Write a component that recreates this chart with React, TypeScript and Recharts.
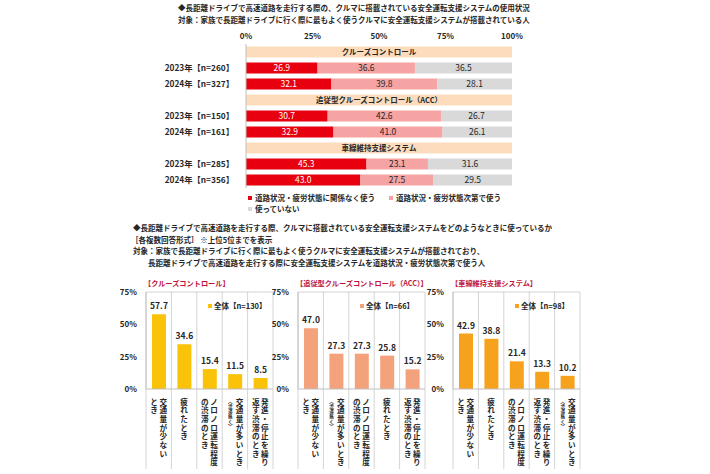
import React from 'react'
import {
    BarChart,
    Bar,
    XAxis,
    YAxis,
    LabelList,
    ReferenceLine
} from 'recharts'

const FONT = '"Noto Sans CJK JP", "Noto Sans", sans-serif'

// ---- top chart data ----
const groups = ['クルーズコントロール', '追従型クルーズコントロール（ACC）', '車線維持支援システム']
const rowLabels = ['2023年【n=260】', '2024年【n=327】', '2023年【n=150】', '2024年【n=161】', '2023年【n=285】', '2024年【n=356】']
const alwaysUse = [26.9, 32.1, 30.7, 32.9, 45.3, 43.0]
const dependUse = [36.6, 39.8, 42.6, 41.0, 23.1, 27.5]
const notUse = [36.5, 28.1, 26.7, 26.1, 31.6, 29.5]
const pctTicks = [0, 25, 50, 75, 100]
const seriesNames = ['道路状況・疲労状態に関係なく使う', '道路状況・疲労状態次第で使う', '使っていない']

// ---- bottom charts data ----
const ccCats = ['交通量が少ないとき', '疲れたとき', 'ノロノロ運転程度の渋滞のとき', '交通量が多いとき（渋滞無く）', '発進・停止を繰り返す渋滞のとき']
const ccValues = [57.7, 34.6, 15.4, 11.5, 8.5]
const accCats = ['交通量が少ないとき', '交通量が多いとき（渋滞無く）', 'ノロノロ運転程度の渋滞のとき', '疲れたとき', '発進・停止を繰り返す渋滞のとき']
const accValues = [47.0, 27.3, 27.3, 25.8, 15.2]
const lkaCats = ['交通量が少ないとき', '疲れたとき', 'ノロノロ運転程度の渋滞のとき', '発進・停止を繰り返す渋滞のとき', '交通量が多いとき（渋滞無く）']
const lkaValues = [42.9, 38.8, 21.4, 13.3, 10.2]
const smallTicks = [0, 25, 50, 75]

// vertical label columns (right to left), "~" prefix = small annotation
const catColumns: Record<string, string[]> = {
    '交通量が少ないとき': ['交通量が少ない', 'とき'],
    '疲れたとき': ['疲れたとき'],
    'ノロノロ運転程度の渋滞のとき': ['ノロノロ運転程度', 'の渋滞のとき'],
    '交通量が多いとき（渋滞無く）': ['交通量が多いとき', '~︵渋滞無く︶'],
    '発進・停止を繰り返す渋滞のとき': ['発進・停止を繰り', '返す渋滞のとき']
}

const RED = '#e8000f'
const PINK = '#f6a3a3'
const GRAY = '#d9d9d9'
const PEACH = '#fcdcbd'
const TEXT = '#262626'

const tableData: any[] = []
groups.forEach((g, gi) => {
    tableData.push({ key: 'h' + gi, header: 100, title: g })
    for (let k = 0; k < 2; k++) {
        const i = gi * 2 + k
        tableData.push({ key: 'r' + i, label: rowLabels[i], a: alwaysUse[i], b: dependUse[i], c: notUse[i] })
    }
})
const labelByKey: Record<string, string> = {}
tableData.forEach(d => { labelByKey[d.key] = d.label || '' })

const fmt1 = (v: any) => (typeof v === 'number' ? v.toFixed(1) : '')

function UsageChart() {
    return (
        <BarChart
            width={376}
            height={162}
            data={tableData}
            layout="vertical"
            margin={{ top: 0, right: 14, bottom: 0, left: 0 }}
            barCategoryGap="16%"
        >
            <XAxis
                type="number"
                orientation="top"
                domain={[0, 100]}
                ticks={pctTicks}
                tickFormatter={(v) => v + '%'}
                axisLine={false}
                tickLine={false}
                tickSize={0}
                tickMargin={5}
                height={18}
                tick={{ fontSize: 8, fontWeight: 700, fill: TEXT, fontFamily: FONT }}
                interval={0}
            />
            <YAxis
                type="category"
                dataKey="key"
                width={96}
                tickFormatter={(k) => labelByKey[k]}
                axisLine={{ stroke: '#bfbfbf' }}
                tickLine={false}
                tickMargin={6}
                tick={{ fontSize: 8.3, fontWeight: 700, fill: TEXT, fontFamily: FONT }}
                interval={0}
            />
            <Bar dataKey="header" stackId="s" fill={PEACH} isAnimationActive={false}>
                <LabelList dataKey="title" position="center" style={{ fontSize: 7.5, fontWeight: 700, fill: TEXT, fontFamily: FONT }} />
            </Bar>
            <Bar dataKey="a" stackId="s" fill={RED} isAnimationActive={false}>
                <LabelList dataKey="a" position="center" formatter={fmt1} style={{ fontSize: 8.5, fill: '#fff', fontFamily: FONT }} />
            </Bar>
            <Bar dataKey="b" stackId="s" fill={PINK} isAnimationActive={false}>
                <LabelList dataKey="b" position="center" formatter={fmt1} style={{ fontSize: 8.5, fill: TEXT, fontFamily: FONT }} />
            </Bar>
            <Bar dataKey="c" stackId="s" fill={GRAY} isAnimationActive={false}>
                <LabelList dataKey="c" position="center" formatter={fmt1} style={{ fontSize: 8.5, fill: TEXT, fontFamily: FONT }} />
            </Bar>
        </BarChart>
    )
}

const PLOT_W = 127
const PLOT_H = 97
const Y_W = 28

function VerticalTick(props: any) {
    const { x, y, payload, index, count } = props
    const cols = catColumns[payload.value] || [payload.value]
    const band = PLOT_W / count
    const nodes: any[] = []
    const offsets = cols.length === 1 ? [0] : [4.6, -4.6]
    cols.forEach((col, ci) => {
        const small = col.startsWith('~')
        const text = small ? col.slice(1) : col
        const cx = x + (small ? -4.6 : offsets[ci])
        const pitch = small ? 5 : 8.7
        const fs = small ? 4.5 : 7.6
        Array.from(text).forEach((ch, k) => {
            nodes.push(
                <text key={ci + '-' + k} x={cx} y={y + 12 + k * pitch} textAnchor="middle" dominantBaseline="central"
                    style={{ fontSize: fs, fontWeight: 700, fill: TEXT, fontFamily: FONT }}>
                    {ch}
                </text>
            )
        })
    })
    return (
        <g>
            <line x1={x - band / 2} x2={x - band / 2} y1={y - PLOT_H} y2={y + 80} stroke="#c9c9c9" strokeWidth={0.8} />
            {index === count - 1 && (
                <line x1={x + band / 2} x2={x + band / 2} y1={y - PLOT_H} y2={y + 80} stroke="#c9c9c9" strokeWidth={0.8} />
            )}
            {nodes}
        </g>
    )
}

interface SmallProps {
    title: string
    cats: string[]
    values: number[]
    color: string
    n: number
    plotLeft: number
}

function SmallChart({ title, cats, values, color, n, plotLeft }: SmallProps) {
    const data = cats.map((c, i) => ({ cat: c, v: values[i] }))
    const top = 286
    return (
        <>
            <div style={{ position: 'absolute', left: plotLeft - 2, top: 278, fontSize: 7.2, fontWeight: 700, color: '#c0143c', whiteSpace: 'nowrap', fontFamily: FONT, lineHeight: '10px' }}>
                {title}
            </div>
            <div style={{ position: 'absolute', left: plotLeft - Y_W, top }}>
                <BarChart
                    width={Y_W + PLOT_W + 4}
                    height={6 + PLOT_H + 84}
                    data={data}
                    margin={{ top: 6, right: 4, bottom: 0, left: 0 }}
                    barSize={14}
                >
                    <XAxis
                        dataKey="cat"
                        interval={0}
                        height={84}
                        axisLine={{ stroke: '#bfbfbf' }}
                        tickLine={false}
                        tickSize={0}
                        tickMargin={0}
                        tick={(p: any) => <VerticalTick {...p} count={cats.length} />}
                    />
                    <YAxis
                        domain={[0, 75]}
                        ticks={smallTicks}
                        width={Y_W}
                        tickFormatter={(v) => v + '%'}
                        axisLine={{ stroke: '#bfbfbf' }}
                        tickLine={false}
                        tickMargin={3}
                        interval={0}
                        tick={{ fontSize: 8, fontWeight: 700, fill: TEXT, fontFamily: FONT }}
                    />
                    <ReferenceLine y={75} stroke="#c9c9c9" strokeWidth={0.8} />
                    <Bar dataKey="v" fill={color} isAnimationActive={false}>
                        <LabelList dataKey="v" position="top" offset={5} formatter={fmt1} style={{ fontSize: 8.5, fontWeight: 700, fill: TEXT, fontFamily: FONT }} />
                    </Bar>
                </BarChart>
            </div>
            <div style={{ position: 'absolute', left: plotLeft + 62, top: 300, fontSize: 7.5, fontWeight: 700, color: TEXT, whiteSpace: 'nowrap', fontFamily: FONT, display: 'flex', alignItems: 'center' }}>
                <span style={{ display: 'inline-block', width: 4, height: 4, background: color, marginRight: 2 }} />
                全体【n={n}】
            </div>
        </>
    )
}

const line = (left: number, top: number, text: string) => (
    <div style={{ position: 'absolute', left, top, fontSize: 7.5, fontWeight: 700, color: TEXT, whiteSpace: 'nowrap', fontFamily: FONT, lineHeight: '10px' }}>
        {text}
    </div>
)

function LegendItem({ color, text }: { color: string; text: string }) {
    return (
        <span style={{ display: 'inline-flex', alignItems: 'center', marginRight: 14 }}>
            <span style={{ display: 'inline-block', width: 4, height: 4, background: color, marginRight: 3 }} />
            {text}
        </span>
    )
}

export default function App() {
    return (
        <div style={{ position: 'absolute', left: 0, top: 0, width: 710, height: 474, background: '#fff', fontFamily: FONT, overflow: 'hidden' }}>
            {line(178, 3, '◆長距離ドライブで高速道路を走行する際の、クルマに搭載されている安全運転支援システムの使用状況')}
            {line(178, 15, '対象：家族で長距離ドライブに行く際に最もよく使うクルマに安全運転支援システムが搭載されている人')}
            <div style={{ position: 'absolute', left: 150, top: 26 }}>
                <UsageChart />
            </div>
            <div style={{ position: 'absolute', left: 248, top: 192, fontSize: 7.5, fontWeight: 700, color: TEXT, whiteSpace: 'nowrap', lineHeight: '10px' }}>
                <div>
                    <LegendItem color={RED} text={seriesNames[0]} />
                    <LegendItem color={PINK} text={seriesNames[1]} />
                </div>
                <div>
                    <LegendItem color={GRAY} text={seriesNames[2]} />
                </div>
            </div>
            {line(133, 223, '◆長距離ドライブで高速道路を走行する際、クルマに搭載されている安全運転支援システムをどのようなときに使っているか')}
            {line(131, 235, '［各複数回答形式］ ※上位5位までを表示')}
            {line(133, 246, '対象：家族で長距離ドライブに行く際に最もよく使うクルマに安全運転支援システムが搭載されており、')}
            {line(148, 258, '長距離ドライブで高速道路を走行する際に安全運転支援システムを道路状況・疲労状態次第で使う人')}
            <SmallChart title="【クルーズコントロール】" cats={ccCats} values={ccValues} color="#fbc20a" n={130} plotLeft={146} />
            <SmallChart title="【追従型クルーズコントロール（ACC）】" cats={accCats} values={accValues} color="#f4a27b" n={66} plotLeft={298} />
            <SmallChart title="【車線維持支援システム】" cats={lkaCats} values={lkaValues} color="#f7a21c" n={98} plotLeft={453} />
        </div>
    )
}
